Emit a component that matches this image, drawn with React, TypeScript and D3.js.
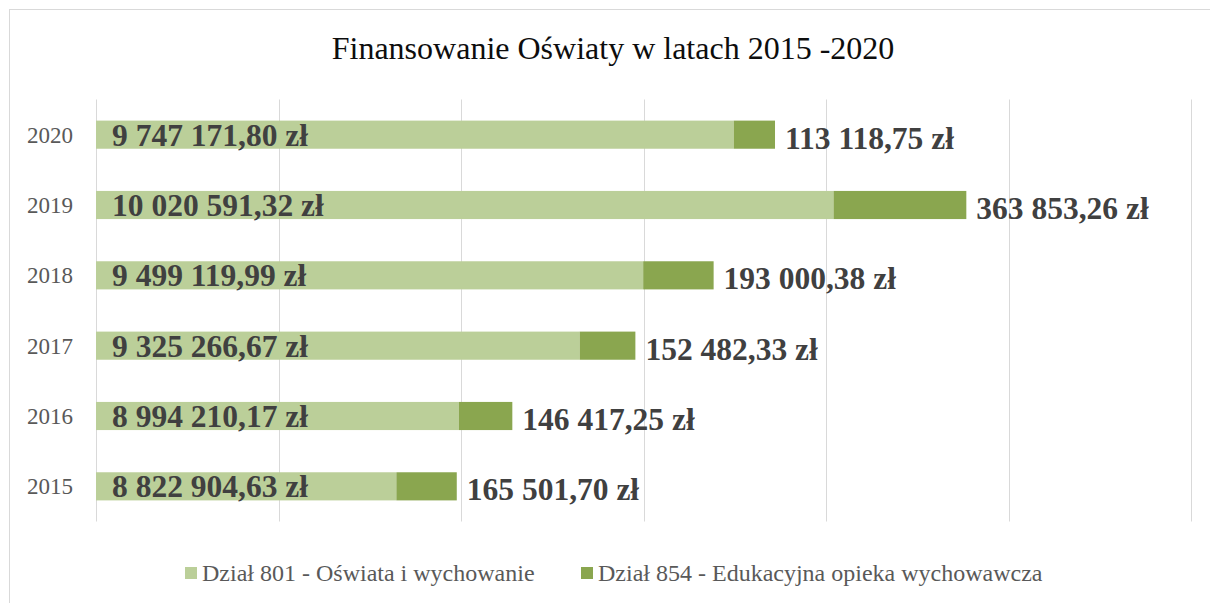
import React, { useEffect, useRef } from "react";
import * as d3 from "d3";

// data
const years = ["2015", "2016", "2017", "2018", "2019", "2020"];
const dzial801 = [8822904.63, 8994210.17, 9325266.67, 9499119.99, 10020591.32, 9747171.8];
const dzial854 = [165501.7, 146417.25, 152482.33, 193000.38, 363853.26, 113118.75];
const seriesNames = ["Dział 801 - Oświata i wychowanie", "Dział 854 - Edukacyjna opieka wychowawcza"];
const xTicks = [8000000, 8500000, 9000000, 9500000, 10000000, 10500000, 11000000];

const W = 1210, H = 603;
const colors = ["#BBCF99", "#8AA64F"];

const pl = d3.formatLocale({ decimal: ",", thousands: " ", grouping: [3], currency: ["", " zł"] });
const fmt = (v: number) => pl.format(",.2f")(v) + " zł";

export default function App() {
  const ref = useRef<SVGSVGElement>(null);

  useEffect(() => {
    const svg = d3.select(ref.current);
    svg.selectAll("*").remove();
    const font = "'Liberation Serif', 'Times New Roman', serif";

    const x = d3.scaleLinear().domain([8000000, 11000000]).range([96, 1191]);
    const y = d3.scaleBand<string>()
      .domain(years.slice().reverse())
      .range([99.5, 521.5])
      .paddingInner(0.6)
      .paddingOuter(0.3);

    // chart frame
    svg.append("rect")
      .attr("x", 9.5).attr("y", 9.5)
      .attr("width", W + 20).attr("height", H + 20)
      .attr("fill", "none").attr("stroke", "#D9D9D9");

    svg.append("text")
      .attr("x", 613).attr("y", 59)
      .attr("text-anchor", "middle")
      .attr("font-family", font)
      .attr("font-size", 32)
      .attr("fill", "#0d0d0d")
      .text("Finansowanie Oświaty w latach 2015 -2020");

    // grid
    svg.append("g").selectAll("line").data(xTicks).join("line")
      .attr("x1", d => Math.round(x(d)) + 0.5).attr("x2", d => Math.round(x(d)) + 0.5)
      .attr("y1", 99.5).attr("y2", 521.5)
      .attr("stroke", "#D9D9D9").attr("stroke-width", 1);

    const rows = years.map((yr, i) => ({ yr, a: dzial801[i], b: dzial854[i] }));
    const bw = y.bandwidth();

    const g = svg.append("g");
    g.selectAll("rect.a").data(rows).join("rect")
      .attr("class", "a")
      .attr("x", x(8000000))
      .attr("y", d => y(d.yr)!)
      .attr("width", d => x(d.a) - x(8000000))
      .attr("height", bw)
      .attr("fill", colors[0]);
    g.selectAll("rect.b").data(rows).join("rect")
      .attr("class", "b")
      .attr("x", d => x(d.a))
      .attr("y", d => y(d.yr)!)
      .attr("width", d => x(d.a + d.b) - x(d.a))
      .attr("height", bw)
      .attr("fill", colors[1]);

    // year labels
    svg.append("g").selectAll("text").data(years).join("text")
      .attr("x", 73)
      .attr("y", d => y(d)! + bw / 2)
      .attr("dy", "0.35em")
      .attr("text-anchor", "end")
      .attr("font-family", font).attr("font-size", 23)
      .attr("fill", "#595959")
      .text(d => d);

    // data labels
    g.selectAll("text.la").data(rows).join("text")
      .attr("class", "la")
      .attr("x", x(8000000) + 16)
      .attr("y", d => y(d.yr)! + bw / 2)
      .attr("dy", "0.35em")
      .attr("font-family", font).attr("font-size", 31.5).attr("font-weight", "bold")
      .attr("fill", "#404040")
      .text(d => fmt(d.a));
    g.selectAll("text.lb").data(rows).join("text")
      .attr("class", "lb")
      .attr("x", d => x(d.a + d.b) + 10)
      .attr("y", d => y(d.yr)! + bw / 2 + 3)
      .attr("dy", "0.35em")
      .attr("font-family", font).attr("font-size", 31.5).attr("font-weight", "bold")
      .attr("fill", "#404040")
      .text(d => fmt(d.b));

    // legend
    const legX = [185, 581];
    const leg = svg.append("g").selectAll("g").data(seriesNames).join("g")
      .attr("transform", (d, i) => `translate(${legX[i]},573)`);
    leg.append("rect")
      .attr("x", 0).attr("y", -6).attr("width", 12).attr("height", 12)
      .attr("fill", (d, i) => colors[i]);
    leg.append("text")
      .attr("x", 17).attr("dy", "0.35em")
      .attr("font-family", font).attr("font-size", 24)
      .attr("fill", "#595959")
      .text(d => d);
  }, []);

  return (
    <svg ref={ref} width={W} height={H}
      style={{ position: "absolute", left: 0, top: 0, background: "#fff" }} />
  );
}
